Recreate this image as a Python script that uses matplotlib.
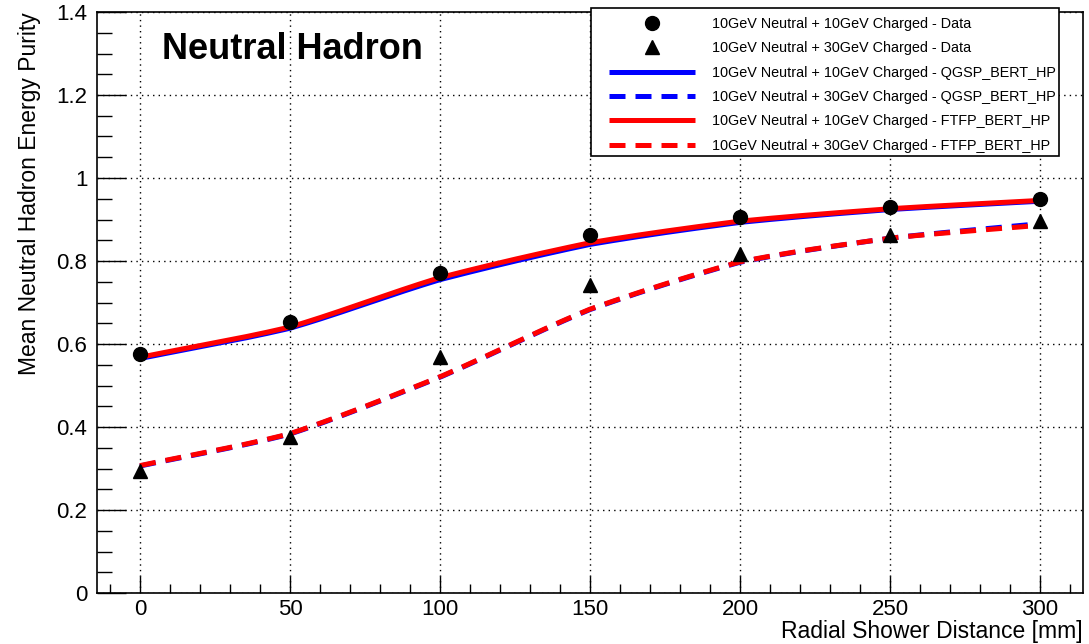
import numpy as np
import matplotlib
matplotlib.use("Agg")
import matplotlib.pyplot as plt
from matplotlib.ticker import MultipleLocator
from matplotlib.patches import Rectangle

plt.rcParams['font.family'] = ['Liberation Sans', 'DejaVu Sans']

# ---------------- data ----------------
distance = [0, 50, 100, 150, 200, 250, 300]
data_10 = [0.577, 0.652, 0.770, 0.863, 0.907, 0.931, 0.950]
data_30 = [0.294, 0.376, 0.568, 0.742, 0.817, 0.862, 0.897]
qgsp_10 = [0.565, 0.638, 0.755, 0.840, 0.893, 0.924, 0.944]
qgsp_30 = [0.306, 0.383, 0.520, 0.683, 0.797, 0.855, 0.890]
ftfp_10 = [0.568, 0.641, 0.760, 0.844, 0.896, 0.926, 0.946]
ftfp_30 = [0.307, 0.384, 0.521, 0.684, 0.798, 0.855, 0.886]
labels = [
    "10GeV Neutral + 10GeV Charged - Data",
    "10GeV Neutral + 30GeV Charged - Data",
    "10GeV Neutral + 10GeV Charged - QGSP_BERT_HP",
    "10GeV Neutral + 30GeV Charged - QGSP_BERT_HP",
    "10GeV Neutral + 10GeV Charged - FTFP_BERT_HP",
    "10GeV Neutral + 30GeV Charged - FTFP_BERT_HP",
]
title = "Neutral Hadron"
xlabel = "Radial Shower Distance [mm]"
ylabel = "Mean Neutral Hadron Energy Purity"


def smooth(x, y, s=0.55, n=60):
    """Hermite curve through the points, blended with straight segments (drawing style)."""
    x = np.asarray(x, float)
    y = np.asarray(y, float)
    k = len(x)
    m = np.zeros(k)
    sl = np.diff(y) / np.diff(x)
    m[0], m[-1] = sl[0], sl[-1]
    for i in range(1, k - 1):
        m[i] = 0.5 * (sl[i - 1] + sl[i])
    xs_all, ys_all = [], []
    for i in range(k - 1):
        h = x[i + 1] - x[i]
        t = np.linspace(0, 1, n)
        h00 = 2 * t**3 - 3 * t**2 + 1
        h10 = t**3 - 2 * t**2 + t
        h01 = -2 * t**3 + 3 * t**2
        h11 = t**3 - t**2
        yc = h00 * y[i] + h10 * h * m[i] + h01 * y[i + 1] + h11 * h * m[i + 1]
        yl = y[i] + (y[i + 1] - y[i]) * t
        xs_all.append(x[i] + h * t)
        ys_all.append(s * yc + (1 - s) * yl)
    return np.concatenate(xs_all), np.concatenate(ys_all)


W, H = 1089, 644
fig = plt.figure(figsize=(W / 100, H / 100), dpi=100)
L, R, T, B = 97, 1083, 12, 593
ax = fig.add_axes([L / W, (H - B) / H, (R - L) / W, (B - T) / H])

lw = 3.6
dash = (3.2, 2.0)
handles = []
for ys, color, ls, z in [(qgsp_10, 'blue', '-', 3), (qgsp_30, 'blue', '--', 3),
                         (ftfp_10, 'red', '-', 4), (ftfp_30, 'red', '--', 4)]:
    xs, yy = smooth(distance, ys)
    ln, = ax.plot(xs, yy, color=color, lw=lw, ls=ls, zorder=z,
                  solid_capstyle='butt', dash_capstyle='butt')
    if ls == '--':
        ln.set_dashes(dash)
    handles.append(ln)

h1, = ax.plot(distance, data_10, 'o', color='black', ms=10, zorder=5)
h2, = ax.plot(distance, data_30, '^', color='black', ms=10, zorder=5)

ax.set_xlim(-14.33, 314.33)
ax.set_ylim(0, 1.4)
ax.xaxis.set_major_locator(MultipleLocator(50))
ax.xaxis.set_minor_locator(MultipleLocator(10))
ax.yaxis.set_major_locator(MultipleLocator(0.2))
ax.yaxis.set_minor_locator(MultipleLocator(0.05))
ax.yaxis.set_major_formatter(matplotlib.ticker.FuncFormatter(lambda v, p: f"{v:g}"))
ax.tick_params(axis='both', which='both', direction='in', top=False, right=False,
               labelsize=16, colors='black', width=1)
ax.tick_params(axis='x', which='major', length=12.2, pad=4)
ax.tick_params(axis='x', which='minor', length=6.2)
ax.tick_params(axis='y', which='major', length=21, pad=7)
ax.tick_params(axis='y', which='minor', length=10.5)
ax.grid(True, which='major', color='black', lw=1.0, ls=(0, (1, 3)))
for s in ax.spines.values():
    s.set_linewidth(1.2)

ax.text((162 - L) / (R - L), (B - 59) / (B - T), title, transform=ax.transAxes,
        fontsize=26, fontweight='bold', ha='left', va='baseline')

fig.text(R / W, 1 / H, xlabel, ha='right', va='bottom', fontsize=16.5)
fig.text(30 / W, (H - 12) / H, ylabel, ha='center', va='top', rotation=90,
         fontsize=16.5)

# legend: frame drawn as a rectangle, entries by ax.legend on top of it
ax.add_patch(Rectangle((591 / W, (H - 156) / H), (1059 - 591) / W, (156 - 8) / H,
                       transform=fig.transFigure, facecolor='white',
                       edgecolor='black', lw=1.2, zorder=9, clip_on=False))
leg_handles = [h1, h2, handles[0], handles[1], handles[2], handles[3]]
leg = ax.legend(leg_handles, labels, loc='upper left',
                bbox_to_anchor=(603 / W, (H - 11) / H), bbox_transform=fig.transFigure,
                fontsize=10.4, frameon=False, handlelength=6.0, handletextpad=1.15,
                borderpad=0.4, labelspacing=0.72, numpoints=1, borderaxespad=0)
leg.set_zorder(10)

fig.savefig("out.png", dpi=100)
